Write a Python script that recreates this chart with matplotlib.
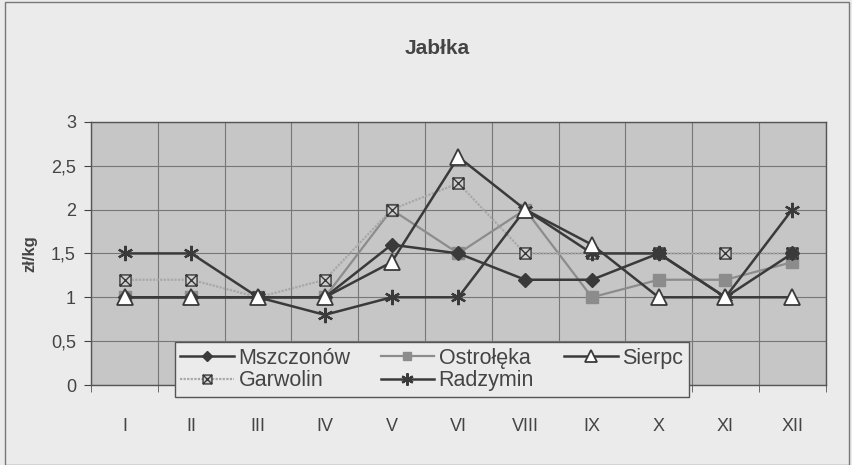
import matplotlib.pyplot as plt
import matplotlib
from matplotlib.path import Path
from matplotlib.patches import Rectangle
import numpy as np

matplotlib.rcParams['font.family'] = ['Liberation Sans', 'DejaVu Sans']

months = ['I', 'II', 'III', 'IV', 'V', 'VI', 'VIII', 'IX', 'X', 'XI', 'XII']
mszczonow = [1.0, 1.0, 1.0, 1.0, 1.6, 1.5, 1.2, 1.2, 1.5, 1.0, 1.5]
ostroleka = [1.0, 1.0, 1.0, 1.0, 2.0, 1.5, 2.0, 1.0, 1.2, 1.2, 1.4]
sierpc = [1.0, 1.0, 1.0, 1.0, 1.4, 2.6, 2.0, 1.6, 1.0, 1.0, 1.0]
garwolin = [1.2, 1.2, 1.0, 1.2, 2.0, 2.3, 1.5, 1.5, 1.5, 1.5, 1.5]
radzymin = [1.5, 1.5, 1.0, 0.8, 1.0, 1.0, 2.0, 1.5, 1.5, 1.0, 2.0]

# square with a cross inside (Excel style marker)
box_x = Path(
    [(-1, -1), (1, -1), (1, 1), (-1, 1), (-1, -1), (-1, -1), (1, 1), (1, -1), (-1, 1)],
    [Path.MOVETO, Path.LINETO, Path.LINETO, Path.LINETO, Path.CLOSEPOLY,
     Path.MOVETO, Path.LINETO, Path.MOVETO, Path.LINETO])

fig = plt.figure(figsize=(8.52, 4.65), dpi=100)
fig.patch.set_facecolor('#ebebeb')
fig.patches.append(Rectangle((0.006, 0.0), 0.99, 0.995, transform=fig.transFigure,
                             fill=False, edgecolor='#777777', linewidth=1.0))

ax = fig.add_axes([0.107, 0.172, 0.862, 0.566])
ax.set_facecolor('#c6c6c6')
x = np.arange(len(months))

ax.plot(x, ostroleka, color='#8c8c8c', lw=1.6, marker='s', ms=8,
        mfc='#8c8c8c', mec='#8c8c8c', label='Ostrołęka', zorder=3)
ax.plot(x, garwolin, color='#a8a8a8', lw=1.6, ls=(0, (1, 0.6)), marker=box_x, ms=8,
        mfc='#d0d0d0', mec='#3a3a3a', mew=1.0, label='Garwolin', zorder=4)
ax.plot(x, mszczonow, color='#3a3a3a', lw=1.8, marker='D', ms=7,
        mfc='#3a3a3a', mec='#3a3a3a', label='Mszczonów', zorder=5)
ax.plot(x, radzymin, color='#3a3a3a', lw=1.8, marker=(6, 2, 0), ms=11,
        mec='#3a3a3a', mew=1.6, label='Radzymin', zorder=5)
ax.plot(x, sierpc, color='#3a3a3a', lw=1.8, marker='^', ms=11,
        mfc='white', mec='#3a3a3a', mew=1.3, label='Sierpc', zorder=6)

ax.set_xlim(-0.5, len(months) - 0.5)
ax.set_ylim(0, 3)
ax.set_yticks([0, 0.5, 1, 1.5, 2, 2.5, 3])
ax.set_yticklabels(['0', '0,5', '1', '1,5', '2', '2,5', '3'])
ax.set_xticks(x)
ax.set_xticklabels(months)
ax.set_xticks(np.arange(-0.5, len(months)), minor=True)
ax.tick_params(axis='x', which='major', length=0, pad=24, labelsize=13, colors='#444444')
ax.tick_params(axis='x', which='minor', length=5, color='#555555')
ax.tick_params(axis='y', length=5, pad=6, labelsize=13, colors='#444444')
ax.grid(True, axis='y', color='#777777', lw=0.8)
ax.grid(True, axis='x', which='minor', color='#777777', lw=0.8)
ax.set_axisbelow(True)
for side in ['left', 'bottom', 'top', 'right']:
    ax.spines[side].set_color('#555555')
    ax.spines[side].set_linewidth(1.0)

ax.set_ylabel('zł/kg', fontsize=12, fontweight='bold', color='#444444', labelpad=10)
fig.text(0.513, 0.895, 'Jabłka', ha='center', va='center', fontsize=15,
         fontweight='bold', color='#444444')

h, l = ax.get_legend_handles_labels()
order = [l.index(n) for n in ['Mszczonów', 'Garwolin', 'Ostrołęka', 'Radzymin', 'Sierpc']]
leg = ax.legend([h[i] for i in order], [l[i] for i in order], ncol=3,
                loc='lower left', bbox_to_anchor=(0.114, -0.045), fontsize=15.5,
                frameon=True, fancybox=False, edgecolor='#555555', facecolor='#ebebeb',
                framealpha=1, handlelength=2.5, handletextpad=0.2, columnspacing=1.4,
                borderpad=0.25, labelspacing=0.08, borderaxespad=0, markerscale=0.8)
for t in leg.get_texts():
    t.set_color('#444444')
leg.set_zorder(10)

plt.savefig('out.png', dpi=100, facecolor=fig.get_facecolor())
plt.close()
